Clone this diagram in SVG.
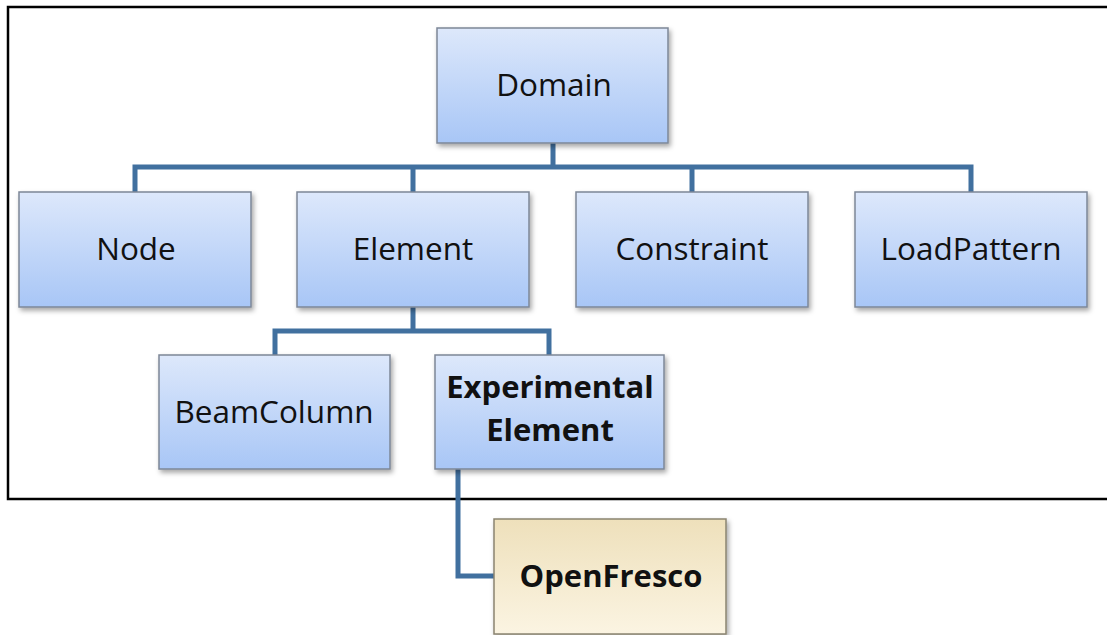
<svg xmlns="http://www.w3.org/2000/svg" width="1107" height="635" viewBox="0 0 1107 635">
<defs>
<linearGradient id="blue" x1="0" y1="0" x2="0" y2="1">
<stop offset="0" stop-color="#dde8fb"/>
<stop offset="1" stop-color="#a8c6f6"/>
</linearGradient>
<linearGradient id="beige" x1="0" y1="0" x2="0" y2="1">
<stop offset="0" stop-color="#eee0bb"/>
<stop offset="1" stop-color="#fbf4e2"/>
</linearGradient>
<filter id="sh" x="-10%" y="-10%" width="125%" height="130%">
<feDropShadow dx="2" dy="3" stdDeviation="2.5" flood-color="#000" flood-opacity="0.35"/>
</filter>
</defs>
<style>
.box{fill:url(#blue);stroke:#7d8797;stroke-width:1.5;filter:url(#sh)}
.beige{fill:url(#beige);stroke:#8a8470;stroke-width:1.5;filter:url(#sh)}
.t{font-family:"Open Sans","Noto Sans",sans-serif;font-size:31.5px;fill:#111;text-anchor:middle}
.b{font-weight:bold;font-size:31px}
.c{fill:none;stroke:#41709f;stroke-width:5}
</style>
<rect x="8" y="7" width="1110" height="492" fill="none" stroke="#000" stroke-width="2.5"/>
<g id="connectors">
<path class="c" d="M553 143V167M135 192V167H971V192M413 167V192M692 167V192"/>
<path class="c" d="M413 307V331M275 355V331H549V355"/>
<path class="c" d="M458 469V576H494"/>
</g>
<g id="domain"><rect class="box" x="437" y="28" width="231" height="115"/><text class="t" x="554" y="96">Domain</text></g>
<g id="node"><rect class="box" x="19" y="192" width="232" height="115"/><text class="t" x="136" y="260">Node</text></g>
<g id="element"><rect class="box" x="297" y="192" width="232" height="115"/><text class="t" x="413" y="260">Element</text></g>
<g id="constraint"><rect class="box" x="576" y="192" width="232" height="115"/><text class="t" x="692" y="260">Constraint</text></g>
<g id="loadpattern"><rect class="box" x="855" y="192" width="232" height="115"/><text class="t" x="971" y="260">LoadPattern</text></g>
<g id="beamcolumn"><rect class="box" x="159" y="355" width="231" height="114"/><text class="t" x="274" y="423">BeamColumn</text></g>
<g id="experimental"><rect class="box" x="435" y="355" width="229" height="114"/><text class="t b" x="550" y="398">Experimental</text><text class="t b" x="550" y="441">Element</text></g>
<g id="openfresco"><rect class="beige" x="494" y="519" width="232" height="115"/><text class="t b" x="611" y="587">OpenFresco</text></g>
</svg>
